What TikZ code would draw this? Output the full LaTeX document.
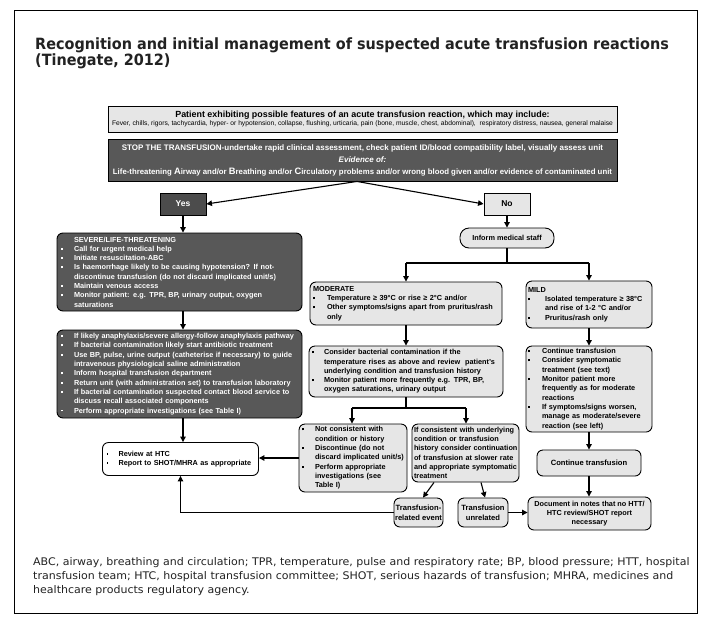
\documentclass[tikz,border=0pt]{standalone}
\usepackage{fontspec}
\setmainfont{Liberation Sans}
\newfontfamily\titlefont[FakeStretch=0.93]{DejaVu Sans}
\newfontfamily\notefont[FakeStretch=1.05]{DejaVu Sans}
\usetikzlibrary{arrows.meta}
\definecolor{lfill}{HTML}{E6E6E6}
\definecolor{dfill}{HTML}{585858}
\definecolor{yfill}{HTML}{4C4C4C}
\definecolor{txtc}{HTML}{222222}
\newlength{\bw}\setlength{\bw}{13pt}
\newcommand{\blt}{\rule[1.6pt]{1.9pt}{1.9pt}}
\newcommand{\itm}[1]{\mbox{\makebox[\bw][l]{\blt}#1}}
\newcommand{\cnt}[1]{\mbox{\hspace*{\bw}#1}}
\newcommand{\hd}[1]{\mbox{#1}}
\tikzset{
  base/.style={draw, line width=0.9pt, inner ysep=0pt, font=\bfseries\fontsize{7.3}{9.3}\selectfont},
  lbox/.style={base, fill=lfill, rounded corners=6pt},
  dbox/.style={base, fill=dfill, text=white, rounded corners=6pt},
  wbox/.style={base, fill=white, rounded corners=6pt},
  sz/.style n args={3}{minimum width=#1pt, minimum height=#2pt, inner xsep=#3pt, text width=#1pt-2*#3pt},
  cz/.style n args={2}{minimum width=#1pt, minimum height=#2pt, inner xsep=0pt, align=center},
  arr/.style={line width=1.1pt, -{Triangle[length=5.5pt,width=5.5pt]}},
  ln/.style={line width=1.1pt}
}
\begin{document}
\begin{tikzpicture}[x=1pt,y=-1pt]
\useasboundingbox (0,0) rectangle (711,635);
\fill[white] (0,0) rectangle (711,635);
\draw[line width=0.8pt] (14,10) rectangle (697,613);

\node[anchor=west, inner sep=0, align=left, text=txtc, font=\titlefont\bfseries\fontsize{15.5}{16}\selectfont] (title) at (35,53)
 {Recognition and initial management of suspected acute transfusion reactions\\(Tinegate, 2012)};

\node[anchor=north west, inner sep=0, align=left, text=txtc, font=\notefont\fontsize{10.5}{14}\selectfont] (notes) at (33,557)
 {ABC, airway, breathing and circulation; TPR, temperature, pulse and respiratory rate; BP, blood pressure; HTT, hospital\\
  transfusion team; HTC, hospital transfusion committee; SHOT, serious hazards of transfusion; MHRA, medicines and\\
  healthcare products regulatory agency.};

% top boxes
\node[base, fill=lfill, cz={509}{26}] (feat) at (362.5,119)
 {{\fontsize{8.9}{10.5}\selectfont Patient exhibiting possible features of an acute transfusion reaction, which may include:}\\[-1pt]
  {\mdseries\fontsize{6.7}{8}\selectfont Fever, chills, rigors, tachycardia, hyper- or hypotension, collapse, flushing, urticaria, pain (bone, muscle, chest, abdominal),\ \ respiratory distress, nausea, general malaise}};

\node[base, fill=dfill, text=white, cz={509}{42}, font=\bfseries\fontsize{8}{12}\selectfont] (stop) at (362.5,160)
 {STOP THE TRANSFUSION-undertake rapid clinical assessment, check patient ID/blood compatibility label, visually assess unit\\
  \textit{Evidence of:}\\
  {\fontsize{7.8}{12}\selectfont Life-threatening {\fontsize{9.3}{12}\selectfont A}irway and/or {\fontsize{9.3}{12}\selectfont B}reathing and/or {\fontsize{9.3}{12}\selectfont C}irculatory problems and/or wrong blood given and/or evidence of contaminated unit}};

\node[base, fill=yfill, text=white, cz={46}{22}, font=\bfseries\fontsize{8.5}{10}\selectfont] (yes) at (183,204) {Yes};
\node[base, fill=lfill, cz={46}{22}, font=\bfseries\fontsize{8.5}{10}\selectfont] (no) at (507,204) {No};

% left column
\node[dbox, sz={245}{78}{4}, align=left] (severe) at (179.5,272)
 {\cnt{SEVERE/LIFE-THREATENING}\\
  \itm{Call for urgent medical help}\\
  \itm{Initiate resuscitation-ABC}\\
  \itm{Is haemorrhage likely to be causing hypotension? If not-}\\
  \cnt{discontinue transfusion (do not discard implicated unit/s)}\\
  \itm{Maintain venous access}\\
  \itm{Monitor patient: e.g. TPR, BP, urinary output, oxygen}\\
  \cnt{saturations}};

\node[dbox, sz={245}{88}{4}, align=left] (anaph) at (179.5,374)
 {\itm{If likely anaphylaxis/severe allergy-follow anaphylaxis pathway}\\
  \itm{If bacterial contamination likely start antibiotic treatment}\\
  \itm{Use BP, pulse, urine output (catheterise if necessary) to guide}\\
  \cnt{intravenous physiological saline administration}\\
  \itm{Inform hospital transfusion department}\\
  \itm{Return unit (with administration set) to transfusion laboratory}\\
  \itm{If bacterial contamination suspected contact blood service to}\\
  \cnt{discuss recall associated components}\\
  \itm{Perform appropriate investigations (see Table I)}};

\node[wbox, sz={156}{33}{4}, align=left] (review) at (180.5,459)
 {\setlength{\bw}{12pt}\itm{Review at HTC}\\
  \itm{Report to SHOT/MHRA as appropriate}};

% middle column
\node[lbox, cz={94}{20}, rounded corners=9pt] (inform) at (507,238) {Inform medical staff};

\node[lbox, sz={192}{43}{3}, align=left] (moderate) at (406,303.5)
 {\setlength{\bw}{14pt}\hd{MODERATE}\\
  \itm{Temperature ≥ 39°C or rise ≥ 2°C and/or}\\
  \itm{Other symptoms/signs apart from pruritus/rash}\\
  \cnt{only}};

\node[lbox, sz={194}{51}{3}, align=left] (consider) at (406,371.5)
 {\setlength{\bw}{12pt}\itm{Consider bacterial contamination if the}\\
  \cnt{temperature rises as above and review\ \ patient's}\\
  \cnt{underlying condition and transfusion history}\\
  \itm{Monitor patient more frequently e.g. TPR, BP,}\\
  \cnt{oxygen saturations, urinary output}};

\node[lbox, sz={108}{68}{3}, align=left] (notcons) at (353,458)
 {\itm{Not consistent with}\\
  \cnt{condition or history}\\
  \itm{Discontinue (do not}\\
  \cnt{discard implicated unit/s)}\\
  \itm{Perform appropriate}\\
  \cnt{investigations (see}\\
  \cnt{Table I)}};

\node[lbox, sz={107}{58}{2}, align=left] (ifcons) at (465.5,453)
 {\hd{If consistent with underlying}\\
  \hd{condition or transfusion}\\
  \hd{history consider continuation}\\
  \hd{of transfusion at slower rate}\\
  \hd{and appropriate symptomatic}\\
  \hd{treatment}};

\node[lbox, cz={49}{29}, font=\bfseries\fontsize{7.6}{10}\selectfont] (tre) at (418.5,512.5) {Transfusion-\\related event};
\node[lbox, cz={50}{29}, font=\bfseries\fontsize{7.6}{10}\selectfont] (tu) at (483,512.5) {Transfusion\\unrelated};

% right column
\node[lbox, sz={126}{47}{2}, align=left] (mild) at (589,304.5)
 {\setlength{\bw}{17pt}\hd{MILD}\\
  \itm{Isolated temperature ≥ 38°C}\\
  \cnt{and rise of 1-2 °C and/or}\\
  \itm{Pruritus/rash only}};

\node[lbox, sz={126}{86}{2}, align=left] (contlist) at (589,389)
 {\setlength{\bw}{14pt}\itm{Continue transfusion}\\
  \itm{Consider symptomatic}\\
  \cnt{treatment (see text)}\\
  \itm{Monitor patient more}\\
  \cnt{frequently as for moderate}\\
  \cnt{reactions}\\
  \itm{If symptoms/signs worsen,}\\
  \cnt{manage as moderate/severe}\\
  \cnt{reaction (see left)}};

\node[lbox, cz={104}{26}, font=\bfseries\fontsize{7.6}{10}\selectfont] (conttrans) at (589,463) {Continue transfusion};

\node[lbox, cz={123}{33}] (doc) at (589.5,513.5) {Document in notes that no HTT/\\HTC review/SHOT report\\necessary};

% connectors
\draw[arr] ([xshift=-5.5pt]stop.south) -- (yes.east);
\draw[arr] ([xshift=-5.5pt]stop.south) -- (no.west);
\draw[arr] (yes.south) -- (yes.south |- severe.north);
\draw[arr] (yes.south |- severe.south) -- (yes.south |- anaph.north);
\draw[arr] (yes.south |- anaph.south) -- (yes.south |- review.north);

\draw[arr] (no.south) -- (inform.north);
\coordinate (brL) at (406,263);
\coordinate (brR) at (589,263);
\draw[ln] (inform.south) -- (inform.south |- brL);
\draw[ln] (brL) -- (brR);
\draw[arr] (brL) -- (moderate.north);
\draw[arr] (brR) -- (mild.north);
\draw[arr] (moderate.south) -- (consider.north);

\coordinate (spL) at (352,408);
\coordinate (spR) at (466,408);
\draw[ln] (consider.south) -- (consider.south |- spL);
\draw[ln] (spL) -- (spR);
\draw[arr] (spL) -- (spL |- notcons.north);
\draw[arr] (spR) -- (spR |- ifcons.north);
\draw[arr] (notcons.west) -- (notcons.west -| review.east);
\draw[arr] ([xshift=-31.5pt]ifcons.south) -- ([xshift=4.5pt]tre.north);
\draw[arr] ([xshift=15.5pt]ifcons.south) -- ([xshift=2pt]tu.north);
\draw[arr] (tre.west) -- (tre.west -| review.south) -- (review.south);
\draw[arr] (tu.east) -- (tu.east -| doc.west);

\draw[arr] (mild.south) -- (contlist.north);
\draw[arr] (contlist.south) -- (conttrans.north);
\draw[arr] (conttrans.south) -- (conttrans.south |- doc.north);
\end{tikzpicture}
\end{document}
